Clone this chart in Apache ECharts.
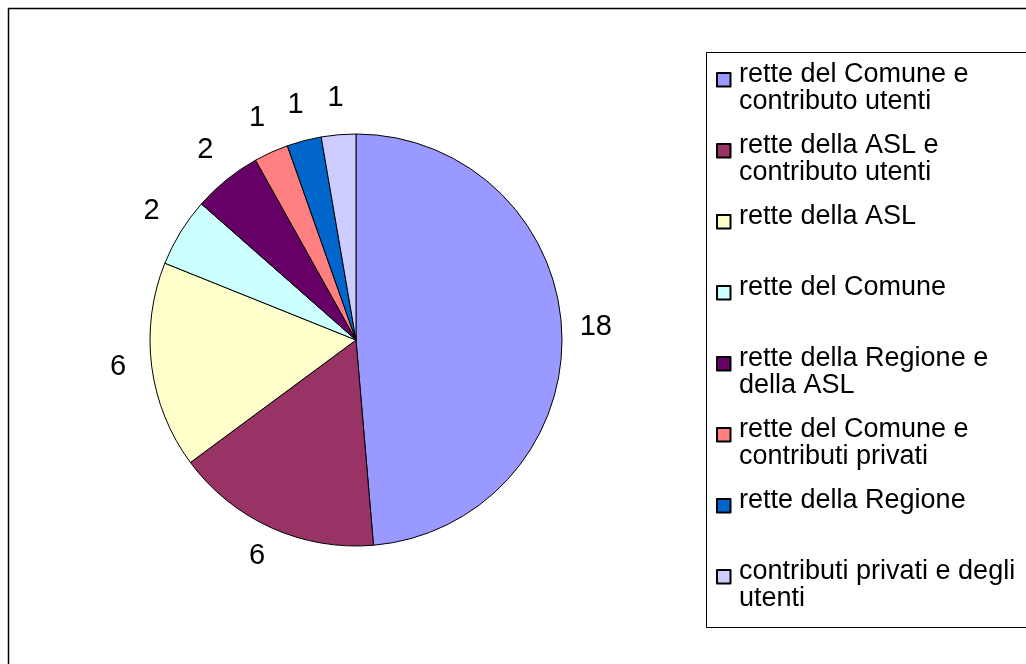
<!DOCTYPE html>
<html>
<head>
<meta charset="utf-8">
<script src="https://cdn.jsdelivr.net/npm/echarts@6/dist/echarts.min.js"></script>
<style>
html, body { margin: 0; padding: 0; background: #fff; }
#main { width: 1026px; height: 664px; }
</style>
</head>
<body>
<div id="main"></div>
<script>
// dati
var categories = [
	'rette del Comune e contributo utenti',
	'rette della ASL e contributo utenti',
	'rette della ASL',
	'rette del Comune',
	'rette della Regione e della ASL',
	'rette del Comune e contributi privati',
	'rette della Regione',
	'contributi privati e degli utenti'
];
var values = [18, 6, 6, 2, 2, 1, 1, 1];
// righe della legenda (a capo come nel grafico)
var legendLabels = [
	'rette del Comune e\ncontributo utenti',
	'rette della ASL e\ncontributo utenti',
	'rette della ASL\n',
	'rette del Comune\n',
	'rette della Regione e\ndella ASL',
	'rette del Comune e\ncontributi privati',
	'rette della Regione\n',
	'contributi privati e degli\nutenti'
];
var colors = ['#9999FF', '#993366', '#FFFFCC', '#CCFFFF', '#660066', '#FF8080', '#0066CC', '#CCCCFF'];

var font = 'Liberation Sans, Arial, sans-serif';

var pieData = [];
var labelData = [];
for (var i = 0; i < categories.length; i++) {
	pieData.push({ name: categories[i], value: values[i], itemStyle: { color: colors[i] } });
	labelData.push({ name: categories[i], value: values[i] });
}

var myChart = echarts.init(document.getElementById('main'));

var option = {
	backgroundColor: '#fff',
	animation: false,
	color: colors,
	graphic: [
		{
			type: 'rect',
			shape: { x: 8.5, y: 8.5, width: 1100, height: 700 },
			style: { fill: 'none', stroke: '#000', lineWidth: 1.5 },
			silent: true
		},
		{
			type: 'rect',
			shape: { x: 706.5, y: 52.5, width: 400, height: 575 },
			style: { fill: 'none', stroke: '#000', lineWidth: 1 },
			silent: true
		}
	],
	legend: {
		data: categories,
		orient: 'vertical',
		left: 716,
		top: 60,
		padding: 0,
		itemGap: 15,
		itemWidth: 17,
		itemHeight: 54,
		icon: 'path://M0,0 M17,54 M0,12 L13.5,12 L13.5,25.5 L0,25.5 Z',
		selectedMode: false,
		formatter: function (name) {
			return legendLabels[categories.indexOf(name)];
		},
		textStyle: {
			fontFamily: font,
			fontSize: 27,
			lineHeight: 27,
			color: '#000'
		}
	},
	series: [
		{
			type: 'pie',
			center: [356, 340],
			radius: [0, 206],
			startAngle: 90,
			clockwise: true,
			avoidLabelOverlap: false,
			label: { show: false },
			labelLine: { show: false },
			itemStyle: { borderColor: '#000', borderWidth: 1 },
			emphasis: { disabled: true },
			data: pieData
		},
		{
			// anello invisibile per le etichette dei valori
			type: 'pie',
			center: [356, 337],
			radius: [226, 248],
			startAngle: 90,
			clockwise: true,
			silent: true,
			legendHoverLink: false,
			avoidLabelOverlap: false,
			itemStyle: { color: 'rgba(0,0,0,0)' },
			label: {
				show: true,
				position: 'inside',
				formatter: '{c}',
				fontFamily: font,
				fontSize: 29,
				color: '#000'
			},
			labelLine: { show: false },
			emphasis: { disabled: true },
			data: labelData
		}
	]
};

myChart.setOption(option);
</script>
</body>
</html>
